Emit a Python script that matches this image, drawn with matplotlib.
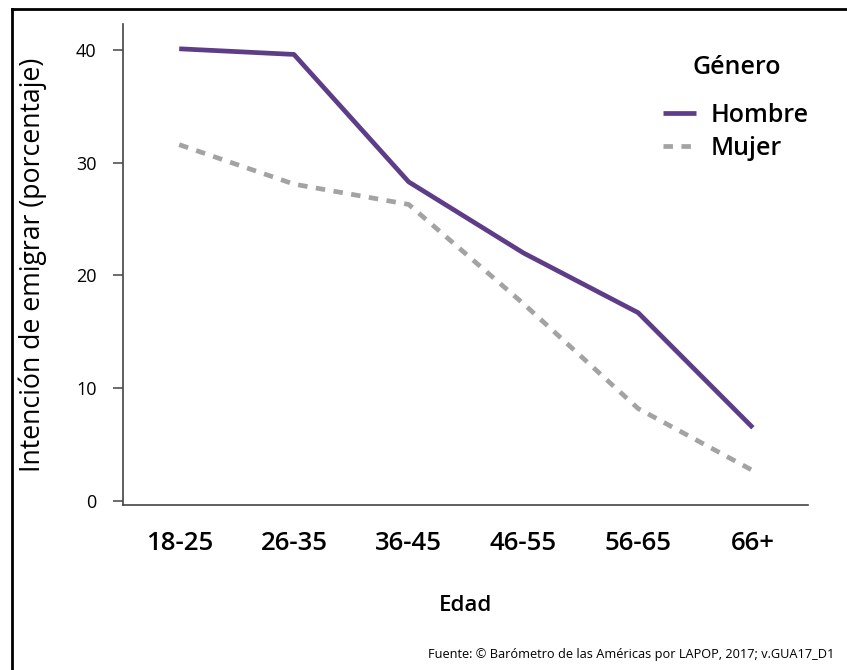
import matplotlib
matplotlib.use("Agg")
import matplotlib.pyplot as plt
from matplotlib.lines import Line2D

plt.rcParams['font.family'] = ['Open Sans', 'DejaVu Sans']

# data
age_groups = ['18-25', '26-35', '36-45', '46-55', '56-65', '66+']
hombre = [40.1, 39.6, 28.3, 22.0, 16.7, 6.5]
mujer = [31.6, 28.1, 26.3, 17.5, 8.2, 2.7]
y_ticks = [0, 10, 20, 30, 40]

purple = '#5d3d87'
gray = '#a3a3a3'
spine_col = '#444444'

fig = plt.figure(figsize=(8.47, 6.70), dpi=100)
ax = fig.add_axes([0.1452, 0.2463, 0.8087, 0.7179])

x = range(len(age_groups))
ax.plot(x, hombre, color=purple, linewidth=3.4, solid_capstyle='butt', label='Hombre')
ax.plot(x, mujer, color=gray, linewidth=3.4, linestyle=(0, (2.0, 1.8)),
        dash_capstyle='butt', label='Mujer')

ax.set_xlim(-0.49, 5.48)
ax.set_ylim(-0.35, 42.3)
ax.set_xticks(list(x))
ax.set_xticklabels(age_groups, fontsize=18.5, fontweight='semibold')
ax.set_yticks(y_ticks)
ax.set_yticklabels([str(v) for v in y_ticks], fontsize=13, fontweight='medium')
ax.tick_params(axis='x', length=0, pad=19)
ax.tick_params(axis='y', length=7, width=1.1, color=spine_col, pad=12)

for side in ['top', 'right']:
    ax.spines[side].set_visible(False)
for side in ['left', 'bottom']:
    ax.spines[side].set_color(spine_col)
    ax.spines[side].set_linewidth(1.2)

ax.set_xlabel('Edad', fontsize=16, fontweight='semibold', labelpad=28)
ax.set_ylabel('Intención de emigrar (porcentaje)', fontsize=19.2, labelpad=21)

# legend title drawn on its own so the gap to the entries matches
ax.text(0.896, 0.9085, 'Género', transform=ax.transAxes, ha='center', va='center',
        fontsize=18, fontweight='semibold')
leg = ax.legend(loc='upper right', bbox_to_anchor=(1.034, 0.8825), frameon=False,
                prop={'size': 18, 'weight': 'semibold'},
                handlelength=1.3, handletextpad=0.6, labelspacing=0.3)

fig.text(0.985, 0.013, 'Fuente: © Barómetro de las Américas por LAPOP, 2017; v.GUA17_D1',
         ha='right', va='bottom', fontsize=9.2)

# outer frame (top and left edges visible)
fig.add_artist(Line2D([12 / 847, 1.0], [1 - 9 / 670, 1 - 9 / 670],
                      color='black', linewidth=2, transform=fig.transFigure))
fig.add_artist(Line2D([12 / 847, 12 / 847], [0.0, 1 - 9 / 670],
                      color='black', linewidth=2, transform=fig.transFigure))

fig.savefig('out.png', dpi=100, facecolor='white')
